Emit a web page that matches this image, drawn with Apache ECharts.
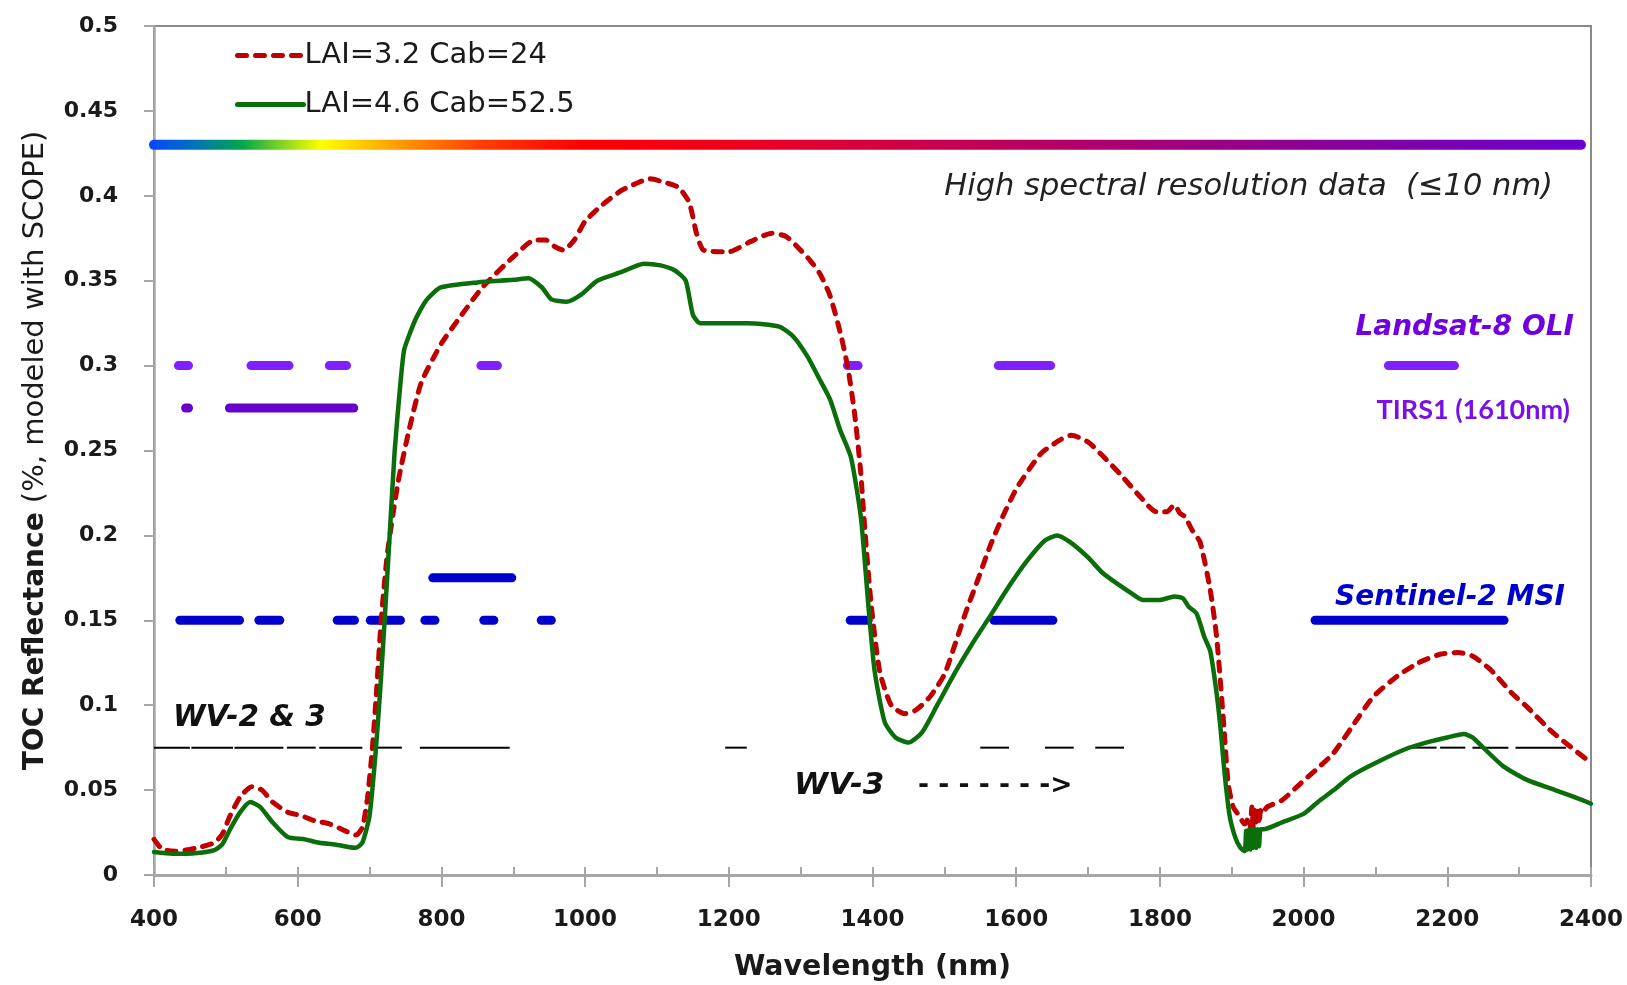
<!DOCTYPE html>
<html><head><meta charset="utf-8">
<script src="https://cdn.jsdelivr.net/npm/echarts@6.0.0/dist/echarts.min.js"></script>
<style>html,body{margin:0;padding:0;background:#fff}#chart{width:1627px;height:985px}</style>
</head><body><div id="chart"></div>
<script>
// ---- Data ----
const seriesNames = ['LAI=3.2 Cab=24', 'LAI=4.6 Cab=52.5'];

const wlRed = [400,412,430,460,484,495,506,520,536,550,565,586,605,623,645,666,681,690,697,704,710,716,725,740,755,772,800,825,857,900,930,945,958,970,985,1000,1025,1050,1075,1090,1110,1130,1145,1155,1165,1200,1230,1260,1280,1300,1313,1327,1341,1356,1366,1375,1383,1390,1398,1410,1426,1445,1460,1480,1500,1515,1530,1545,1563,1580,1601,1634,1660,1677,1700,1720,1745,1770,1795,1810,1820,1828,1835,1845,1856,1870,1879,1889,1895,1902,1910,1918,1924,1926,1928,1930,1932,1934,1936,1938,1940,1942,1949,1970,1996,2020,2042,2075,2097,2130,2160,2190,2215,2235,2260,2290,2311,2344,2370,2400];
const reflRed = [0.021,0.015,0.014,0.016,0.019,0.024,0.035,0.046,0.052,0.050,0.043,0.037,0.035,0.032,0.030,0.026,0.0235,0.028,0.045,0.075,0.110,0.149,0.190,0.232,0.262,0.290,0.313,0.328,0.346,0.364,0.374,0.374,0.370,0.368,0.374,0.385,0.395,0.403,0.408,0.410,0.408,0.405,0.396,0.378,0.368,0.367,0.373,0.378,0.376,0.368,0.362,0.354,0.341,0.318,0.298,0.272,0.240,0.200,0.160,0.120,0.100,0.095,0.097,0.105,0.118,0.136,0.155,0.172,0.193,0.210,0.228,0.248,0.256,0.259,0.255,0.247,0.236,0.224,0.214,0.214,0.218,0.213,0.211,0.203,0.196,0.168,0.140,0.088,0.054,0.040,0.035,0.030,0.034,0.028,0.040,0.028,0.040,0.029,0.040,0.030,0.038,0.036,0.040,0.044,0.054,0.063,0.072,0.092,0.105,0.117,0.125,0.130,0.131,0.129,0.121,0.107,0.099,0.085,0.076,0.066];

const wlGreen = [400,426,460,484,495,506,520,534,548,565,586,610,630,652,670,681,690,700,709,715,721,728,735,742,748,757,766,780,799,850,900,921,940,953,974,995,1017,1050,1082,1105,1125,1140,1150,1160,1226,1270,1290,1310,1325,1341,1355,1370,1384,1394,1403,1417,1432,1450,1469,1490,1516,1540,1563,1590,1615,1640,1657,1675,1700,1720,1739,1760,1776,1800,1820,1832,1840,1851,1862,1870,1878,1884,1890,1897,1905,1912,1918,1920,1922,1924,1926,1928,1930,1932,1934,1936,1938,1940,1945,1970,2000,2020,2042,2065,2100,2144,2180,2200,2223,2235,2250,2278,2311,2350,2389,2400];
const reflGreen = [0.0135,0.0125,0.013,0.0147,0.018,0.027,0.037,0.043,0.040,0.031,0.0224,0.021,0.019,0.018,0.0165,0.016,0.019,0.035,0.075,0.110,0.150,0.200,0.250,0.285,0.309,0.320,0.329,0.339,0.346,0.349,0.3505,0.3515,0.346,0.339,0.3376,0.342,0.350,0.355,0.360,0.359,0.356,0.350,0.330,0.325,0.325,0.323,0.317,0.305,0.293,0.280,0.262,0.246,0.210,0.160,0.120,0.090,0.081,0.078,0.084,0.100,0.120,0.137,0.152,0.170,0.185,0.197,0.200,0.196,0.187,0.178,0.172,0.166,0.162,0.162,0.164,0.163,0.158,0.154,0.140,0.132,0.110,0.088,0.060,0.035,0.022,0.016,0.014,0.026,0.015,0.027,0.015,0.027,0.016,0.027,0.016,0.027,0.017,0.027,0.027,0.031,0.036,0.043,0.050,0.058,0.066,0.0745,0.079,0.081,0.083,0.081,0.075,0.064,0.056,0.050,0.044,0.042];

// Sensor band intervals (nm) and the reflectance level at which each row is drawn
const landsatOliBands = [[434,448],[535,588],[644,668],[855,878],[1365,1380],[1575,1648],[2118,2210]];
const landsatOliLevel = 0.30;
const landsatPanBands = [[444,448],[505,678]];
const landsatPanLevel = 0.275;
const sentinelBands = [[436,519],[546,575],[655,679],[701,743],[777,791],[859,873],[939,953],[1369,1394],[1569,1651],[2016,2279]];
const sentinelLevel = 0.15;
const sentinelNirBands = [[788,898]];
const sentinelNirLevel = 0.175;
const worldViewBands = [[400,450],[452,510],[512,580],[585,625],[630,690],[705,745],[770,895],[1195,1225],[1550,1590],[1640,1680],[1710,1750],[2145,2185],[2190,2225],[2235,2285],[2295,2365]];
const worldViewLevel = 0.075;
const spectrumBar = [[400,0.43],[2386,0.43]];

const xMin = 400, xMax = 2400, xStep = 100, xLabelStep = 200;
const yMin = 0, yMax = 0.5, yStep = 0.05;

// ---- Chart ----
const FONT = "'DejaVu Sans', Verdana, sans-serif";
const chart = echarts.init(document.getElementById('chart'), null, {renderer: 'canvas'});

function bandSeries(name, bands, level, color, width, cap) {
  return {
    type: 'custom', name: name, silent: true, z: 3,
    data: bands.map(b => [b[0], b[1], level]),
    encode: {x: [0, 1], y: 2},
    renderItem: function (params, api) {
      const p1 = api.coord([api.value(0), api.value(2)]);
      const p2 = api.coord([api.value(1), api.value(2)]);
      return {type: 'line', shape: {x1: p1[0], y1: p1[1], x2: p2[0], y2: p2[1]},
        style: {stroke: color, lineWidth: width, lineCap: cap}};
    }
  };
}

const option = {
  animation: false,
  backgroundColor: '#fff',
  grid: {left: 154, right: 36, top: 26, bottom: 110, show: true, borderColor: '#8a8a8a', borderWidth: 2, containLabel: false, outerBoundsMode: 'none'},
  legend: {
    data: seriesNames, orient: 'vertical', left: 235, top: 39, padding: 0, itemWidth: 66, itemHeight: 16, itemGap: 16,
    itemStyle: {opacity: 0},
    lineStyle: {width: 5},
    textStyle: {fontFamily: FONT, fontSize: 29, color: '#1a1a1a', lineHeight: 33, padding: [0,0,0,-4]}
  },
  xAxis: [{
    type: 'value', min: xMin, max: xMax, interval: xStep,
    name: 'Wavelength (nm)', nameLocation: 'middle', nameGap: 78,
    nameTextStyle: {fontFamily: FONT, fontWeight: 'bold', fontSize: 28.5, color: '#1a1a1a'},
    axisLine: {show: true, lineStyle: {color: '#a6a6a6', width: 3}},
    axisTick: {show: true, inside: true, length: 8, lineStyle: {color: '#a6a6a6', width: 2}},
    axisLabel: {margin: 34, fontFamily: FONT, fontWeight: 'bold', fontSize: 23, color: '#1a1a1a',
      formatter: v => (v % xLabelStep === 0 ? String(v) : '')},
    splitLine: {show: false}
  }, {
    type: 'value', min: xMin, max: xMax, interval: xLabelStep, position: 'bottom',
    axisLine: {show: false}, axisLabel: {show: false}, splitLine: {show: false},
    axisTick: {show: true, inside: false, length: 12, lineStyle: {color: '#a6a6a6', width: 2}}
  }],
  yAxis: {
    type: 'value', min: yMin, max: yMax, interval: yStep,
    name: '{b|TOC Reflectance}{n| (%, modeled with SCOPE)}', nameLocation: 'middle', nameGap: 104,
    nameTextStyle: {rich: {
      b: {fontFamily: FONT, fontWeight: 'bold', fontSize: 28, color: '#1a1a1a'},
      n: {fontFamily: FONT, fontSize: 29, color: '#1a1a1a'}}},
    axisLine: {show: true, lineStyle: {color: '#a6a6a6', width: 2.5}},
    axisTick: {show: true, inside: false, length: 10, lineStyle: {color: '#a6a6a6', width: 2}},
    axisLabel: {margin: 36, fontFamily: FONT, fontWeight: 'bold', fontSize: 22, color: '#1a1a1a'},
    splitLine: {show: false}
  },
  series: [
    {type: 'line', name: 'spectrum', data: spectrumBar, symbol: 'none', silent: true, z: 2,
      lineStyle: {width: 10, cap: 'round', color: new echarts.graphic.LinearGradient(0, 0, 1, 0, [
        {offset: 0, color: '#0a46ff'}, {offset: 0.03, color: '#0070c0'}, {offset: 0.065, color: '#00a84a'},
        {offset: 0.095, color: '#90d820'}, {offset: 0.12, color: '#ffff00'}, {offset: 0.17, color: '#ffa000'},
        {offset: 0.23, color: '#ff4000'}, {offset: 0.3, color: '#ff0000'}, {offset: 0.4, color: '#f0001c'},
        {offset: 0.55, color: '#c80050'}, {offset: 0.72, color: '#a00080'}, {offset: 0.87, color: '#8000a8'},
        {offset: 1, color: '#6a00d0'}])}},
    bandSeries('Landsat-8 OLI', landsatOliBands, landsatOliLevel, '#8020ff', 9, 'round'),
    bandSeries('Landsat-8 PAN', landsatPanBands, landsatPanLevel, '#6600cc', 9, 'round'),
    bandSeries('Sentinel-2 MSI', sentinelBands, sentinelLevel, '#0000cc', 9, 'round'),
    bandSeries('Sentinel-2 NIR', sentinelNirBands, sentinelNirLevel, '#0000cc', 9, 'round'),
    bandSeries('WorldView', worldViewBands, worldViewLevel, '#000000', 2, 'butt'),
    {type: 'line', name: seriesNames[0], data: wlRed.map((w, i) => [w, reflRed[i]]), symbol: 'none', z: 5,
      smooth: 0.2, itemStyle: {color: '#c00000'},
      lineStyle: {color: '#c00000', width: 5, type: [9, 9], cap: 'round'}},
    {type: 'line', name: seriesNames[1], data: wlGreen.map((w, i) => [w, reflGreen[i]]), symbol: 'none', z: 6,
      smooth: 0.2, itemStyle: {color: '#0a6e0a'},
      lineStyle: {color: '#0a6e0a', width: 4.5, type: 'solid', cap: 'round', join: 'round'}}
  ],
  graphic: [
    {type: 'text', x: 1553, y: 187, z: 10, style: {text: 'High spectral resolution data  (≤10 nm)', font: "italic 30.5px " + FONT, fill: '#222', align: 'right', verticalAlign: 'middle'}},
    {type: 'text', x: 1574, y: 328, z: 10, style: {text: 'Landsat-8 OLI', font: "italic bold 28px " + FONT, fill: '#7000e0', align: 'right', verticalAlign: 'middle'}},
    {type: 'text', x: 1570, y: 410, z: 10, style: {text: 'TIRS1 (1610nm)', font: "bold 27px Lato, " + FONT, fill: '#7a10e8', align: 'right', verticalAlign: 'middle'}},
    {type: 'text', x: 1565, y: 598, z: 10, style: {text: 'Sentinel-2 MSI', font: "italic bold 28px " + FONT, fill: '#0000cc', align: 'right', verticalAlign: 'middle'}},
    {type: 'text', x: 173, y: 718, z: 10, style: {text: 'WV-2 & 3', font: "italic bold 29.5px " + FONT, fill: '#111', align: 'left', verticalAlign: 'middle'}},
    {type: 'text', x: 794, y: 786, z: 10, style: {text: 'WV-3', font: "italic bold 31px " + FONT, fill: '#111', align: 'left', verticalAlign: 'middle'}},
    {type: 'text', x: 918, y: 786, z: 10, style: {text: '- - - - - - ->', font: "bold 26.5px " + FONT, fill: '#111', align: 'left', verticalAlign: 'middle'}}
  ]
};
chart.setOption(option);
</script>
</body></html>
